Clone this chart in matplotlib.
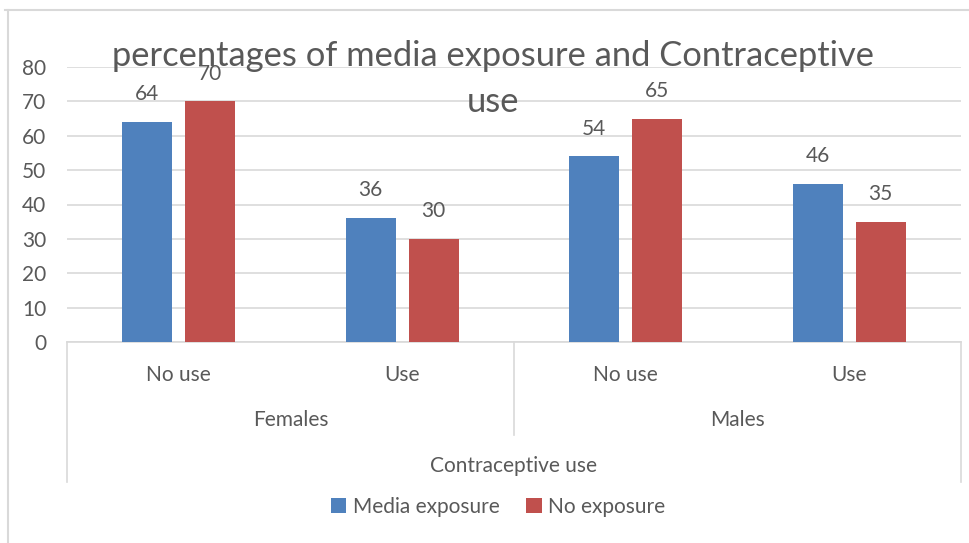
import matplotlib
matplotlib.use("Agg")
import matplotlib.pyplot as plt
from matplotlib.lines import Line2D
import numpy as np

plt.rcParams["font.family"] = ["Lato", "DejaVu Sans"]

# chart data
categories = ["No use", "Use", "No use", "Use"]
groups = ["Females", "Males"]
media_exposure = [64, 36, 54, 46]
no_exposure = [70, 30, 65, 35]
series_names = ["Media exposure", "No exposure"]
y_ticks = [0, 10, 20, 30, 40, 50, 60, 70, 80]

BLUE = "#4F81BD"
RED = "#C0504D"
GRID = "#D9D9D9"
TEXT = "#595959"

W, H = 970, 543
fig = plt.figure(figsize=(W / 100, H / 100), dpi=100)

# plot area in pixels: x 67..961, y 67 (80) .. 342 (0)
ax = fig.add_axes([67 / W, 1 - 342 / H, (961 - 67) / W, 275 / H])

x = np.arange(len(categories))
width = 0.224
off = 0.141
b1 = ax.bar(x - off, media_exposure, width, color=BLUE, label=series_names[0], zorder=3)
b2 = ax.bar(x + off, no_exposure, width, color=RED, label=series_names[1], zorder=3)

for bars, vals in ((b1, media_exposure), (b2, no_exposure)):
    for rect, v in zip(bars, vals):
        ax.annotate(str(v), (rect.get_x() + rect.get_width() / 2, v),
                    xytext=(0, 20), textcoords="offset points",
                    ha="center", va="center", fontsize=15, color=TEXT)

ax.set_xlim(-0.5, len(categories) - 0.5)
ax.set_ylim(0, 80)
ax.set_yticks(y_ticks)
ax.set_xticks([])
ax.tick_params(axis="y", length=0, pad=15, labelsize=15, labelcolor=TEXT)
ax.grid(axis="y", color=GRID, linewidth=1.2, zorder=0)
for s in ("left", "right", "top"):
    ax.spines[s].set_visible(False)
ax.spines["bottom"].set_color(GRID)
ax.spines["bottom"].set_linewidth(1.2)

# multi-level category axis
tr = ax.transAxes
for xc, lab in zip(x, categories):
    ax.text((xc + 0.5) / len(categories), -0.12, lab, transform=tr,
            ha="center", va="center", fontsize=15, color=TEXT)
for i, g in enumerate(groups):
    ax.text(0.25 + 0.5 * i, -0.284, g, transform=tr,
            ha="center", va="center", fontsize=15, color=TEXT)
ax.text(0.5, -0.451, "Contraceptive use", transform=tr,
        ha="center", va="center", fontsize=15, color=TEXT)
for xv, y0 in ((0, -0.509), (0.5, -0.338), (1, -0.509)):
    ax.plot([xv, xv], [0, y0], transform=tr, color=GRID, linewidth=1.2, clip_on=False)

# title (overlaps the plot area, as in the original)
fig.text(493 / W, 1 - 79 / H, "percentages of media exposure and Contraceptive\nuse",
         ha="center", va="center", multialignment="center", fontsize=24.8,
         color=TEXT, linespacing=1.5)

# legend
fig.legend(handles=[b1, b2], labels=series_names, loc="center",
           bbox_to_anchor=(498 / W, 1 - 507 / H), ncol=2, frameon=False,
           fontsize=15, labelcolor=TEXT, handlelength=0.75, handleheight=0.75,
           handletextpad=0.3, columnspacing=1.3)

# chart border fragments
fig.add_artist(Line2D([5 / W, 1], [1 - 10 / H] * 2, color=GRID, linewidth=1.5))
fig.add_artist(Line2D([8 / W] * 2, [0, 1 - 10 / H], color=GRID, linewidth=1.5))

fig.savefig("out.png", dpi=100)
